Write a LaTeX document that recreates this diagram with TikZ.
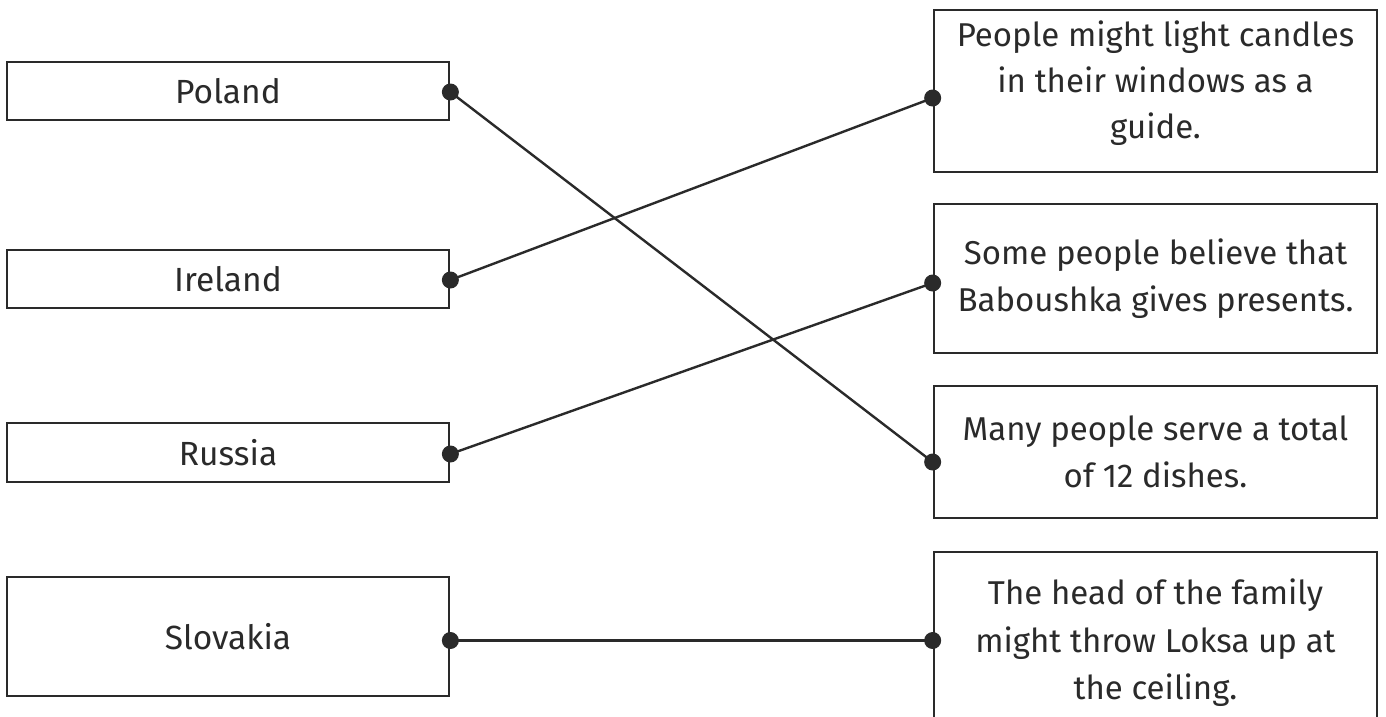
\documentclass[tikz,border=0pt]{standalone}
\usepackage{fontspec}
\setmainfont{Fira Sans}
\definecolor{ink}{HTML}{2A2A2A}
\begin{document}
\begin{tikzpicture}[x=1pt,y=-1pt,
  lbox/.style={draw=ink, line width=2.7pt, minimum width=442pt, inner sep=0pt, font=\fontsize{33.5}{40}\selectfont, text=ink},
  rbox/.style={draw=ink, line width=2.7pt, minimum width=443pt, inner sep=0pt, align=center, font=\fontsize{33}{47.5}\selectfont, text=ink},
  rtext/.style={inner sep=0pt, align=center, font=\fontsize{33}{46}\selectfont, text=ink},
  conn/.style={draw=ink, line width=2.4pt},
  dot/.style={circle, fill=ink, inner sep=0pt, minimum size=17pt}]
\useasboundingbox (0,0) rectangle (1386,716);
\fill[white] (0,0) rectangle (1386,716);
\clip (0,0) rectangle (1386,716);
% left boxes
\node[lbox, minimum height=58pt] (poland) at (228,91) {Poland};
\node[lbox, minimum height=58pt] (ireland) at (228,279) {Ireland};
\node[lbox, minimum height=59pt] (russia) at (228,452.5) {Russia};
\node[lbox, minimum height=119pt] (slovakia) at (228,636.5) {Slovakia};
% right boxes
\node[rbox, minimum height=162pt] (r1) at (1155.5,91) {};
\node[rtext] (r1t) at (1155.5,83) {People might light candles\\in their windows as a\\guide.};
\node[rbox, minimum height=149pt] (r2) at (1155.5,278.5) {Some people believe that\\Baboushka gives presents.};
\node[rbox, minimum height=132pt] (r3) at (1155.5,452) {Many people serve a total\\of 12 dishes.};
\node[rbox, minimum height=182pt] (r4) at (1155.5,643) {The head of the family\\might throw Loksa up at\\the ceiling.};
% connection points
\coordinate (pP) at ([yshift=-1pt]poland.east);
\coordinate (pI) at ([yshift=-1pt]ireland.east);
\coordinate (pR) at ([yshift=-1.5pt]russia.east);
\coordinate (pS) at ([yshift=-4pt]slovakia.east);
\coordinate (q1) at ([yshift=-7pt]r1.west);
\coordinate (q2) at ([yshift=-4.5pt]r2.west);
\coordinate (q3) at ([yshift=-10pt]r3.west);
\coordinate (q4) at ([yshift=2.5pt]r4.west);
% connectors
\draw[conn] (pP) -- (q3);
\draw[conn] (pI) -- (q1);
\draw[conn] (pR) -- (q2);
\draw[conn] (pS) -- (q4);
% dots
\foreach \p in {pP,pI,pR,pS,q1,q2,q3,q4} \node[dot] at (\p) {};
\end{tikzpicture}
\end{document}
